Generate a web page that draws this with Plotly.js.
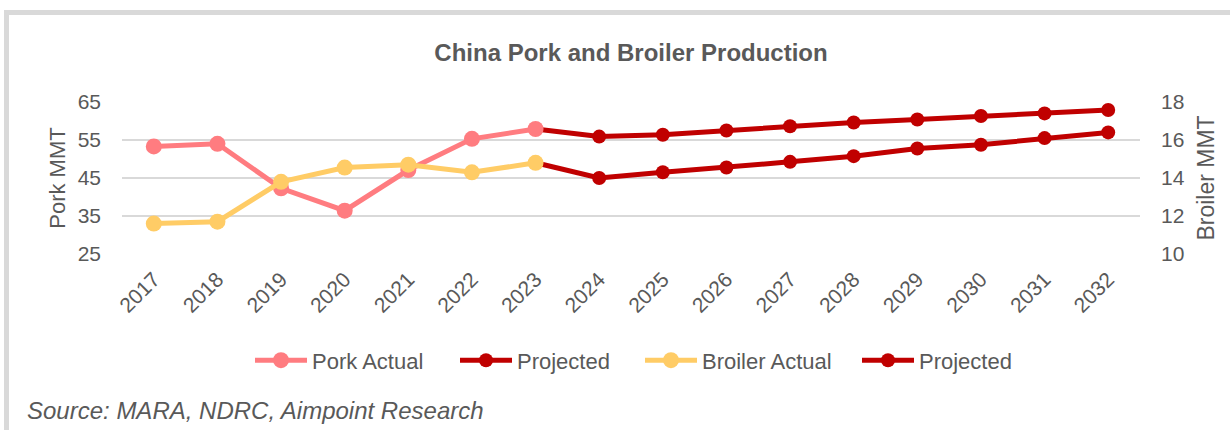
<!DOCTYPE html>
<html>
<head>
<meta charset="utf-8">
<script src="https://cdn.plot.ly/plotly-3.0.1.min.js"></script>
<style>
  html, body { margin: 0; padding: 0; background: #ffffff; }
  #wrap { position: relative; width: 1230px; height: 430px; overflow: hidden; }
  #frame { position: absolute; left: 4px; top: 10px; width: 1300px; height: 500px;
           border-left: 5px solid #d9d9d9; border-top: 5px solid #d9d9d9; box-sizing: border-box; }
  #chart { position: absolute; left: 0; top: 0; width: 1230px; height: 430px; }
</style>
</head>
<body>
<div id="wrap">
  <div id="frame"></div>
  <div id="chart"></div>
</div>
<script>
const years = ['2017','2018','2019','2020','2021','2022','2023','2024','2025','2026','2027','2028','2029','2030','2031','2032'];
const porkActual = [53.3, 54.0, 42.3, 36.4, 47.1, 55.3, 57.9, null, null, null, null, null, null, null, null, null];
const porkProjected = [null, null, null, null, null, null, 57.9, 55.9, 56.4, 57.5, 58.6, 59.6, 60.4, 61.3, 62.0, 62.9];
const broilerActual = [11.6, 11.7, 13.8, 14.55, 14.7, 14.3, 14.8, null, null, null, null, null, null, null, null, null];
const broilerProjected = [null, null, null, null, null, null, 14.8, 14.0, 14.3, 14.55, 14.85, 15.15, 15.55, 15.75, 16.1, 16.4];
const leftTicks = [25, 35, 45, 55, 65];
const rightTicks = [10, 12, 14, 16, 18];

const FONT = '"Liberation Sans Narrow", "Arial Narrow", "Liberation Sans", Arial, sans-serif';
const GREY = '#595959';
const PINK = '#FF7C80', YELLOW = '#FFCC66', RED = '#C00000';

const data = [
  { x: years, y: porkProjected, name: 'Projected', type: 'scatter', mode: 'lines+markers',
    yaxis: 'y', legend: 'legend2', line: { color: RED, width: 5 }, marker: { color: RED, size: 14 } },
  { x: years, y: porkActual, name: 'Pork Actual', type: 'scatter', mode: 'lines+markers',
    yaxis: 'y', legend: 'legend', line: { color: PINK, width: 5 }, marker: { color: PINK, size: 16 } },
  { x: years, y: broilerProjected, name: 'Projected', type: 'scatter', mode: 'lines+markers',
    yaxis: 'y2', legend: 'legend4', line: { color: RED, width: 5 }, marker: { color: RED, size: 14 } },
  { x: years, y: broilerActual, name: 'Broiler Actual', type: 'scatter', mode: 'lines+markers',
    yaxis: 'y2', legend: 'legend3', line: { color: YELLOW, width: 5 }, marker: { color: YELLOW, size: 16 } }
];

function legendAt(px) {
  return { orientation: 'h', x: (px - 5 - 122) / 1018, xanchor: 'left', y: -0.7, yanchor: 'middle',
           font: { family: FONT, size: 22, color: GREY }, itemwidth: 52, bgcolor: 'rgba(0,0,0,0)' };
}

const layout = {
  width: 1230, height: 430,
  margin: { l: 122, r: 90, t: 102, b: 176, pad: 0 },
  paper_bgcolor: 'rgba(0,0,0,0)', plot_bgcolor: 'rgba(0,0,0,0)',
  font: { family: FONT, color: GREY, size: 21 },
  title: { text: '<b>China Pork and Broiler Production</b>', font: { family: FONT, size: 24, color: GREY },
           x: 0.5, xref: 'paper', y: 1 - 53/430, yref: 'container', yanchor: 'middle' },
  showlegend: true,
  legend: legendAt(255),
  legend2: legendAt(460),
  legend3: legendAt(645),
  legend4: legendAt(862),
  xaxis: { type: 'category', range: [-0.5, 15.5], tickangle: -45, showgrid: false, zeroline: false, showline: false,
           ticks: '', ticklabelstandoff: 8, tickfont: { family: FONT, size: 21, color: GREY } },
  yaxis: { range: [25, 65], tickvals: leftTicks, showgrid: true, gridcolor: '#d9d9d9', gridwidth: 2,
           zeroline: false, showline: false, ticks: '', ticklabelstandoff: 20,
           tickfont: { family: FONT, size: 21, color: GREY },
           title: { text: 'Pork MMT', font: { family: FONT, size: 22, color: GREY }, standoff: 5 } },
  yaxis2: { range: [10, 18], tickvals: rightTicks, overlaying: 'y', side: 'right', showgrid: false,
            zeroline: false, showline: false, ticks: '', ticklabelstandoff: 20,
            tickfont: { family: FONT, size: 21, color: GREY },
            title: { text: 'Broiler MMT', font: { family: FONT, size: 23, color: GREY }, standoff: 14 } },
  annotations: [
    { text: '<i>Source: MARA, NDRC, Aimpoint Research</i>', xref: 'paper', yref: 'paper',
      x: (25 - 122) / 1018, y: (254 - 410) / 152, xanchor: 'left', yanchor: 'middle', showarrow: false,
      font: { family: FONT, size: 24, color: GREY } }
  ]
};

Plotly.newPlot('chart', data, layout, { displayModeBar: false, staticPlot: true });
</script>
</body>
</html>
